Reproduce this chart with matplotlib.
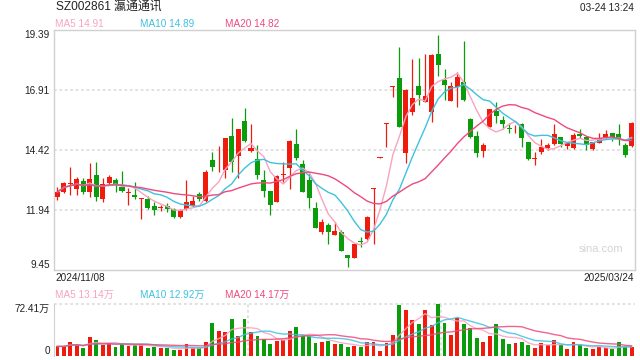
"""
kline chart for SZ002861 with volume panel
"""
import numpy as np
import pandas as pd
import matplotlib
matplotlib.use('Agg')
import matplotlib.pyplot as plt

plt.rcParams['font.family'] = ['Liberation Sans', 'Noto Sans CJK SC', 'DejaVu Sans']

# daily ohlc, 2024/11/08 .. 2025/03/24
opens = [12.46, 12.68, 13.02, 12.82, 13.14, 12.67, 13.39, 12.40, 13.07, 13.18,
         12.89, 12.64, 12.56, 12.38, 12.39, 12.10, 12.03, 12.10, 11.98, 11.66,
         11.96, 12.11, 12.60, 12.32, 14.01, 13.53, 13.59, 15.00, 14.18, 15.62,
         14.38, 14.05, 13.18, 12.72, 12.28, 13.39, 13.69, 14.67, 13.84, 13.18,
         12.02, 11.01, 11.31, 10.91, 11.02, 10.06, 9.95, 10.65, 10.73, 12.79,
         14.10, 15.50, 17.04, 17.39, 14.31, 16.01, 17.07, 16.40, 16.01, 18.40,
         17.32, 16.46, 17.02, 17.24, 15.69, 15.00, 14.39, 15.39, 16.05, 15.66,
         15.33, 15.27, 15.49, 14.76, 14.03, 14.33, 14.50, 14.67, 14.95, 14.60,
         14.52, 15.10, 14.97, 14.45, 14.72, 14.92, 15.13, 15.08, 14.64, 14.59]
closes = [12.68, 13.07, 13.07, 13.22, 12.69, 13.22, 12.49, 13.01, 13.30, 13.03,
          12.72, 12.66, 12.47, 12.40, 12.03, 11.95, 12.06, 11.99, 11.66, 11.92,
          12.25, 12.31, 12.37, 13.51, 13.73, 13.55, 14.92, 13.94, 15.29, 14.79,
          14.50, 13.39, 12.72, 12.15, 13.36, 13.42, 14.79, 14.09, 12.69, 12.45,
          11.20, 11.44, 11.04, 11.07, 10.25, 9.95, 10.53, 10.63, 11.65, 12.82,
          14.11, 15.52, 17.06, 15.39, 16.91, 16.58, 16.70, 16.66, 18.36, 17.96,
          17.13, 17.07, 17.45, 16.50, 14.97, 14.28, 14.63, 16.12, 15.83, 15.50,
          15.31, 15.29, 14.93, 14.05, 14.05, 14.56, 14.63, 15.08, 14.68, 14.70,
          15.04, 15.01, 14.64, 14.74, 14.92, 15.08, 14.97, 14.90, 14.20, 15.53]
highs = [12.90, 13.11, 13.72, 13.30, 13.27, 13.89, 13.91, 13.25, 13.39, 13.27,
         13.55, 12.83, 13.08, 12.45, 12.52, 12.27, 12.15, 12.21, 12.01, 11.96,
         13.18, 12.52, 12.68, 13.59, 14.34, 14.59, 14.92, 15.75, 15.29, 16.16,
         15.50, 14.63, 13.59, 12.72, 13.39, 13.92, 14.84, 15.30, 14.01, 13.50,
         12.25, 11.56, 11.38, 11.44, 11.11, 10.06, 10.53, 10.80, 11.69, 12.83,
         14.11, 15.52, 17.06, 18.70, 16.94, 18.19, 18.24, 18.40, 18.40, 19.20,
         17.78, 17.25, 17.64, 18.92, 15.76, 15.21, 14.72, 16.12, 16.41, 15.83,
         15.55, 15.46, 15.53, 14.76, 14.33, 14.86, 14.70, 15.50, 14.97, 14.75,
         15.14, 15.29, 14.97, 14.74, 15.14, 15.25, 15.14, 15.49, 14.72, 15.57]
lows = [12.35, 12.63, 12.56, 12.56, 12.60, 12.49, 12.31, 12.27, 12.97, 12.69,
        12.69, 12.15, 12.39, 11.56, 11.98, 11.74, 11.91, 11.84, 11.62, 11.62,
        11.94, 12.07, 12.32, 12.28, 13.55, 13.52, 13.25, 13.51, 13.27, 14.76,
        14.33, 13.22, 12.46, 11.73, 12.28, 13.11, 12.79, 14.01, 12.69, 12.03,
        11.20, 10.93, 10.51, 10.91, 10.22, 9.56, 9.95, 10.42, 10.69, 10.53,
        14.10, 14.56, 16.60, 15.39, 13.87, 15.87, 16.30, 16.40, 15.59, 17.49,
        16.51, 16.46, 16.22, 16.46, 14.90, 14.14, 14.14, 15.39, 15.55, 15.28,
        15.11, 15.11, 14.53, 14.01, 13.80, 14.27, 14.41, 14.64, 14.56, 14.48,
        14.45, 14.92, 14.43, 14.41, 14.72, 14.86, 14.79, 14.64, 14.14, 14.55]
# volume in 万 shares
volumes = [12.8, 12.8, 18.5, 15.6, 10.4, 25.6, 21.3, 14.7, 17.5, 11.4,
           16.6, 13.7, 14.2, 16.1, 10.4, 11.8, 10.4, 10.9, 7.6, 7.6,
           15.6, 9.9, 9.9, 18.5, 45.9, 34.1, 32.7, 51.1, 27.0, 51.1,
           32.7, 27.0, 22.7, 16.1, 19.9, 21.7, 34.1, 39.8, 27.0, 27.0,
           17.5, 18.9, 20.3, 16.1, 16.1, 11.4, 12.8, 11.8, 18.9, 18.9,
           6.2, 17.5, 28.9, 71.5, 64.4, 49.7, 44.5, 64.0, 42.6, 72.41,
           45.9, 28.4, 53.0, 44.0, 38.3, 24.1, 18.9, 27.0, 44.0, 22.7,
           15.6, 17.0, 18.5, 14.2, 9.9, 17.0, 14.2, 21.3, 14.2, 8.5,
           18.5, 14.7, 9.9, 8.5, 11.4, 10.9, 8.5, 18.5, 11.8, 11.4]

price_ticks = [9.45, 11.94, 14.42, 16.91, 19.39]
vol_max = 72.41
title = 'SZ002861 瀛通通讯'
timestamp = '03-24 13:24'
start_label = '2024/11/08'
end_label = '2025/03/24'
ma_price_labels = ['MA5 14.91', 'MA10 14.89', 'MA20 14.82']
ma_vol_labels = ['MA5 13.14万', 'MA10 12.92万', 'MA20 14.17万']

RED = '#ef1b0c'
GREEN = '#0b9c0b'
MA_COLORS = ['#f8a3c1', '#3dc2e0', '#ee4a7c']
GRID = '#dedede'
FRAME = '#d0d0d0'
TXT = '#222222'

o = np.array(opens)
c = np.array(closes)
h = np.array(highs)
l = np.array(lows)
v = np.array(volumes)
x = np.arange(len(c))
up = c >= o
colors = np.where(up, RED, GREEN)

W, H = 640, 360
fig = plt.figure(figsize=(6.4, 3.6), dpi=100)
ax = fig.add_axes([54 / W, 90 / H, 581 / W, 240 / H])
axv = fig.add_axes([54 / W, 4.5 / H, 581 / W, 51.5 / H])

# price panel
for yv in price_ticks[1:-1]:
    ax.axhline(yv, color=GRID, lw=1.3, ls=(0, (1.5, 1.5)), zorder=0)
ax.vlines(x, l, h, colors=colors, lw=0.9, zorder=2)
body = np.maximum(np.abs(c - o), 0.04)
ax.bar(x, body, bottom=np.minimum(o, c), width=0.78, color=colors,
       lw=0, zorder=3)
s = pd.Series(c)
for n, col in zip([5, 10, 20], MA_COLORS):
    ax.plot(x, s.rolling(n, min_periods=1).mean(), color=col, lw=1.0, zorder=4)

ax.set_xlim(-0.54, 89.53)
ax.set_ylim(price_ticks[0], price_ticks[-1])
ax.set_xticks([])
ax.set_yticks(price_ticks)
ax.set_yticklabels(['%.2f' % t for t in price_ticks], fontsize=7.2, color=TXT)
ax.tick_params(axis='y', length=0, pad=3)
ax.get_yticklabels()[0].set_va('bottom')
ax.get_yticklabels()[-1].set_va('top')
for sp in ax.spines.values():
    sp.set_color(FRAME)
    sp.set_linewidth(1.0)
ax.text(623 / 581 - 54 / 581, 16 / 240, 'sina.com', transform=ax.transAxes,
        ha='right', va='bottom', fontsize=8, color='#d4d4d4')

# volume panel
axv.bar(x, v, width=0.6, color=colors, lw=0, zorder=3)
vs = pd.Series(v)
for n, col in zip([5, 10, 20], MA_COLORS):
    axv.plot(x, vs.rolling(n, min_periods=1).mean(), color=col, lw=1.0,
             alpha=0.85, zorder=4)
axv.axhline(vol_max, color=GRID, lw=1.3, ls=(0, (1.5, 1.5)), zorder=0,
            clip_on=False)
for xv in [29.5, 59.5]:
    axv.axvline(xv, color=GRID, lw=1.3, ls=(0, (1.5, 1.5)), zorder=0)
axv.set_xlim(-0.54, 89.53)
axv.set_ylim(0, vol_max)
axv.set_xticks([])
axv.set_yticks([0, vol_max])
axv.set_yticklabels(['0', '%.2f万' % vol_max], fontsize=7.2, color=TXT)
axv.tick_params(axis='y', length=0, pad=3)
axv.get_yticklabels()[0].set_va('bottom')
axv.get_yticklabels()[-1].set_va('top')
for name, sp in axv.spines.items():
    sp.set_visible(name == 'left')
    sp.set_color(FRAME)

# header and labels, in pixel positions
def ftext(px, py, s, **kw):
    kw.setdefault('fontsize', 7.2)
    kw.setdefault('color', TXT)
    fig.text(px / W, 1 - py / H, s, va='center', **kw)

ftext(56, 8, title, fontsize=8.6)
ftext(634, 8, timestamp, ha='right')
for px, lab, col in zip([55, 140, 225], ma_price_labels, MA_COLORS):
    ftext(px, 24, lab, color=col)
ftext(55, 278, start_label)
ftext(634, 278, end_label, ha='right')
for px, lab, col in zip([55, 140, 225], ma_vol_labels, MA_COLORS):
    ftext(px, 295, lab, color=col)

fig.savefig('out.png', dpi=100)
